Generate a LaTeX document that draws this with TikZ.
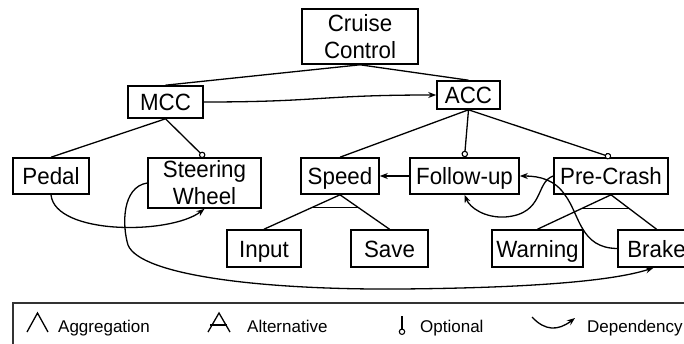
\documentclass[tikz,border=0pt]{standalone}
\usepackage{fontspec}
\setmainfont{Liberation Sans}
\newfontfamily\boxfont{Liberation Sans}[FakeStretch=0.95]
\usetikzlibrary{arrows.meta,calc}
\begin{document}
\begin{tikzpicture}[x=1pt,y=-1pt,
  fbox/.style={draw,line width=1.6pt,inner sep=0pt,font=\boxfont\fontsize{23.5}{27}\selectfont},
  one/.style={fbox,text height=17pt,text depth=0pt},
  conn/.style={line width=1.3pt},
  opt/.style={conn,-{Circle[fill=white,length=6.5pt,width=6.5pt,line width=1.1pt]}},
  dep/.style={line width=1.3pt,-{Stealth[length=8pt,width=6pt]}},
  lbl/.style={anchor=base west,inner sep=0pt,font=\fontsize{17}{20}\selectfont}]
\useasboundingbox (0,0) rectangle (684,343);
\clip (0,0) rectangle (684,343);
% boxes
\node[fbox,align=center,minimum width=116pt,minimum height=55pt] (cc) at (360,36.5) {Cruise\\Control};
\node[one,minimum width=75pt,minimum height=32pt] (mcc) at (165.5,102) {MCC};
\node[one,minimum width=63pt,minimum height=28pt] (acc) at (468.5,95) {ACC};
\node[one,minimum width=76pt,minimum height=36pt] (pedal) at (51,176) {Pedal};
\node[fbox,align=center,minimum width=113pt,minimum height=50pt] (steer) at (204.5,183) {Steering\\Wheel};
\node[one,minimum width=78pt,minimum height=36pt] (speed) at (340,176) {Speed};
\node[one,minimum width=109pt,minimum height=36pt] (follow) at (464.5,176) {Follow-up};
\node[one,minimum width=114pt,minimum height=36pt] (pre) at (611,176) {Pre-Crash};
\node[one,minimum width=74pt,minimum height=37pt] (input) at (264,248.5) {Input};
\node[one,minimum width=77pt,minimum height=37pt] (save) at (389.5,248.5) {Save};
\node[one,minimum width=91pt,minimum height=37pt] (warning) at (537.5,248.5) {Warning};
\node[one,minimum width=77pt,minimum height=37pt] (brake) at (656.5,248.5) {Brake};
% tree edges
\draw[conn] (cc.south) -- (mcc.north);
\draw[conn] (cc.south) -- (acc.north);
\draw[conn] (mcc.south) -- (pedal.north);
\draw[opt] (mcc.south) -- (steer.north);
\draw[conn] (acc.south) -- (speed.north);
\draw[opt] (acc.south) -- (follow.north);
\draw[opt] (acc.south) -- (pre.north);
\draw[conn] (speed.south) -- (input.north);
\draw[conn] (speed.south) -- (save.north);
\draw[conn] ($(speed.south)!0.36!(input.north)$) -- ($(speed.south)!0.36!(save.north)$);
\draw[conn] (pre.south) -- (warning.north);
\draw[conn] (pre.south) -- (brake.north);
\draw[conn] ($(pre.south)!0.39!(warning.north)$) -- ($(pre.south)!0.39!(brake.north)$);
% dependencies
\draw[dep] (mcc.east) .. controls (320,102) and (320,95) .. (acc.west);
\draw[dep] (follow.west) -- (speed.east);
\draw[dep] (pedal.south) .. controls (55,235) and (170,235) .. (steer.south);
\draw[dep] (steer.west) .. controls (122,187) and (122,225) .. (128,245)
   .. controls (140,275) and (260,290) .. (400,289)
   .. controls (520,288) and (610,282) .. ([xshift=-3pt]brake.south);
\draw[dep] (pre.west) .. controls (535,182) and (545,214) .. (505,217)
   .. controls (485,218) and (470,208) .. (follow.south);
\draw[dep] (brake.west) .. controls (580,248) and (580,215) .. (565,195)
   .. controls (555,180) and (540,176) .. (follow.east);
% legend
\draw[line width=1.2pt,black!80] (13,360) -- (13,303) -- (700,303);
\draw[conn] (27,332) -- (37.5,313) -- (48,332);
\node[lbl] (lagg) at (58,332) {Aggregation};
\draw[conn] (208,332) -- (219,313) -- (230,332);
\draw[conn] (210,325) -- (227,325);
\node[lbl] (lalt) at (247,332) {Alternative};
\draw[opt] (402,316) -- (402,335);
\node[lbl] (lopt) at (420,332) {Optional};
\draw[dep] (532,317) .. controls (545,331) and (558,331) .. (575,318);
\node[lbl] (ldep) at (587,332) {Dependency};
\end{tikzpicture}
\end{document}
